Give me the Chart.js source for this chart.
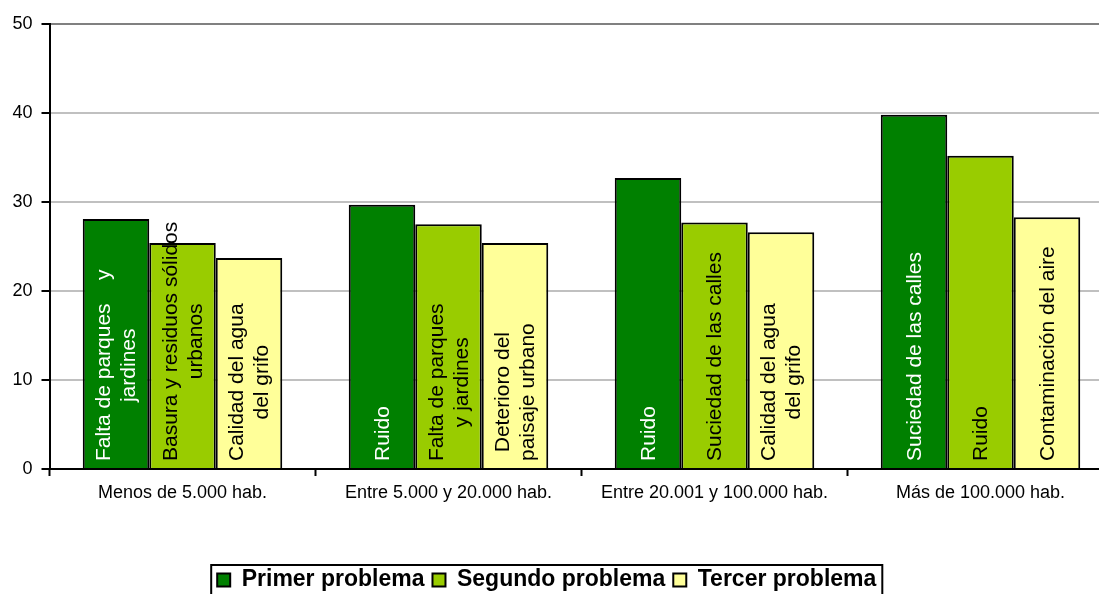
<!DOCTYPE html>
<html>
<head>
<meta charset="utf-8">
<script src="https://cdn.jsdelivr.net/npm/chart.js@4"></script>
<style>
  html, body { margin: 0; padding: 0; background: #fff; overflow: hidden; width: 1099px; height: 594px; }
  canvas { display: block; }
</style>
</head>
<body>
<canvas id="c" width="1120" height="594"></canvas>
<script>
// ---- data ----
const categories = ['Menos de 5.000 hab.', 'Entre 5.000 y 20.000 hab.', 'Entre 20.001 y 100.000 hab.', 'Más de 100.000 hab.'];
const seriesNames = ['Primer problema', 'Segundo problema', 'Tercer problema'];
const primerValues = [28.1, 29.7, 32.7, 39.8];
const segundoValues = [25.4, 27.5, 27.7, 35.2];
const tercerValues = [23.7, 25.4, 26.6, 28.3];
const primerLabels = [['Falta de parques    y', 'jardines'], ['Ruido'], ['Ruido'], ['Suciedad de las calles']];
const segundoLabels = [['Basura y residuos sólidos', 'urbanos'], ['Falta de parques', 'y jardines'], ['Suciedad de las calles'], ['Ruido']];
const tercerLabels = [['Calidad del agua', 'del grifo'], ['Deterioro del', 'paisaje urbano'], ['Calidad del agua', 'del grifo'], ['Contaminación del aire']];
const yTicks = [0, 10, 20, 30, 40, 50];

const FONT = "'Liberation Sans', Arial, sans-serif";
Chart.defaults.font.family = FONT;
Chart.defaults.color = '#000';

const barLabels = [primerLabels, segundoLabels, tercerLabels];
const labelColors = ['#ffffff', '#000000', '#000000'];

const inBarLabels = {
  id: 'inBarLabels',
  afterDatasetsDraw(chart) {
    const ctx = chart.ctx;
    ctx.save();
    ctx.font = '21px ' + FONT;
    ctx.textAlign = 'center';
    ctx.textBaseline = 'middle';
    const pitch = 25;
    chart.data.datasets.forEach((ds, di) => {
      const meta = chart.getDatasetMeta(di);
      meta.data.forEach((bar, i) => {
        const lines = barLabels[di][i];
        if (!lines) return;
        const maxW = Math.max(...lines.map(l => ctx.measureText(l).width));
        const cy = bar.base - 7 - maxW / 2;
        ctx.save();
        ctx.translate(bar.x, cy);
        ctx.rotate(-Math.PI / 2);
        ctx.fillStyle = labelColors[di];
        const n = lines.length;
        lines.forEach((l, j) => {
          ctx.fillText(l, 0, (j - (n - 1) / 2) * pitch + 1);
        });
        ctx.restore();
      });
    });
    ctx.restore();
  }
};

const legendFont = 23;
const legendPad = 8;
const legendHeight = 33.5;
const legendShift = -10;
const legendFix = {
  id: 'legendFix',
  beforeLayout(chart) {
    const lg = chart.legend;
    if (lg && !lg._patched) {
      const orig = lg.fit.bind(lg);
      lg.fit = function () { orig(); this.height = legendHeight; if (this.minSize) this.minSize.height = legendHeight; };
      lg._patched = true;
    }
  },
  afterLayout(chart) {
    const lg = chart.legend;
    if (lg) { lg.left += legendShift; lg.right += legendShift; }
  },
  afterDraw(chart) {
    const lg = chart.legend;
    if (!lg || !lg.legendHitBoxes || !lg.legendHitBoxes.length) return;
    const hb = lg.legendHitBoxes;
    const left = Math.min(...hb.map(h => h.left)) - 6;
    const right = Math.max(...hb.map(h => h.left + h.width)) + 6;
    const top = Math.min(...hb.map(h => h.top)) - 3.5;
    const ctx = chart.ctx;
    ctx.save();
    ctx.strokeStyle = '#000';
    ctx.lineWidth = 2;
    ctx.strokeRect(left, top, right - left, 60);
    ctx.restore();
  }
};

new Chart(document.getElementById('c'), {
  type: 'bar',
  data: {
    labels: categories,
    datasets: [
      { label: seriesNames[0], data: primerValues, backgroundColor: '#008000', borderColor: '#000', borderWidth: 2 },
      { label: seriesNames[1], data: segundoValues, backgroundColor: '#99CC00', borderColor: '#000', borderWidth: 2 },
      { label: seriesNames[2], data: tercerValues, backgroundColor: '#FFFF99', borderColor: '#000', borderWidth: 2 }
    ]
  },
  options: {
    responsive: false,
    devicePixelRatio: 1,
    animation: false,
    layout: { padding: { top: 24, left: 0, right: 6.5, bottom: 0 } },
    datasets: { bar: { categoryPercentage: 0.75, barPercentage: 1.0, borderSkipped: 'start' } },
    plugins: {
      tooltip: { enabled: false },
      legend: {
        position: 'bottom',
        labels: {
          font: { size: legendFont, weight: 'bold', family: FONT },
          color: '#000',
          boxWidth: 13,
          boxHeight: 13,
          padding: legendPad
        }
      }
    },
    scales: {
      x: {
        afterFit(scale) { scale.height = 125 - legendHeight; },
        grid: { display: true, drawOnChartArea: false, drawTicks: true, offset: true, tickLength: 7, tickColor: '#000', tickWidth: 2 },
        border: { display: true, color: '#000', width: 2 },
        ticks: { font: { size: 18, family: FONT }, color: '#000', padding: 6, maxRotation: 0 }
      },
      y: {
        min: 0,
        max: 50,
        afterFit(scale) { scale.width = 49.5; },
        afterBuildTicks(scale) { scale.ticks = yTicks.map(v => ({ value: v })); },
        grid: {
          color: (c) => c.tick && c.tick.value === 50 ? '#808080' : (c.tick && c.tick.value === 0 ? 'rgba(0,0,0,0)' : '#c0c0c0'),
          lineWidth: 2,
          tickColor: '#000',
          tickLength: 8,
          tickWidth: 2
        },
        border: { display: true, color: '#000', width: 2 },
        ticks: { font: { size: 18, family: FONT }, color: '#000', padding: 9 }
      }
    }
  },
  plugins: [legendFix, inBarLabels]
});
</script>
</body>
</html>
